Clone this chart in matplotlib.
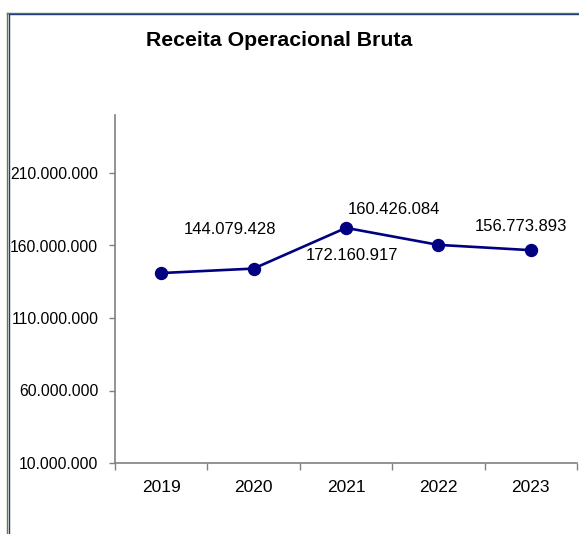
import matplotlib
matplotlib.use("Agg")
import matplotlib.pyplot as plt
from matplotlib.lines import Line2D
from matplotlib.ticker import FuncFormatter, FixedLocator

plt.rcParams['font.family'] = ['Liberation Sans', 'DejaVu Sans']

title = "Receita Operacional Bruta"
years = ["2019", "2020", "2021", "2022", "2023"]
values = [141000000, 144079428, 172160917, 160426084, 156773893]
labels = [None, "144.079.428", "172.160.917", "160.426.084", "156.773.893"]
label_offsets = [None, (-24, 39), (6, -28), (-44, 35), (-10, 24)]
y_ticks = [10000000, 60000000, 110000000, 160000000, 210000000]

W, H, DPI = 579, 534, 100
fig = plt.figure(figsize=(W / DPI, H / DPI), dpi=DPI)
fig.patch.set_facecolor('white')

# outer frame (two-tone line)
fig.add_artist(Line2D([7.5 / W, 7.5 / W], [0, 1 - 12.5 / H], transform=fig.transFigure,
                      color='#6b7a3a', lw=1.0))
fig.add_artist(Line2D([7.5 / W, 1], [1 - 12.5 / H, 1 - 12.5 / H], transform=fig.transFigure,
                      color='#6b7a3a', lw=1.0))
fig.add_artist(Line2D([8.5 / W, 8.5 / W], [0, 1 - 13.5 / H], transform=fig.transFigure,
                      color='#1f3f7a', lw=1.0))
fig.add_artist(Line2D([8.5 / W, 1], [1 - 13.5 / H, 1 - 13.5 / H], transform=fig.transFigure,
                      color='#1f3f7a', lw=1.0))

left, right, top, bottom = 115, 577, 115, 463
ax = fig.add_axes([left / W, 1 - bottom / H, (right - left) / W, (bottom - top) / H])
ax.set_facecolor('none')

x = list(range(len(years)))
ax.plot(x, values, color='#000080', lw=1.9, marker='o', markersize=8.6,
        markerfacecolor='#000080', markeredgecolor='#000080', zorder=3)

for xi, v, lab, off in zip(x, values, labels, label_offsets):
    if lab is None:
        continue
    ax.annotate(lab, (xi, v), xytext=off, textcoords='offset pixels',
                ha='center', va='center', fontsize=12, color='black')

ax.set_xlim(-0.5, len(years) - 0.5)
ax.set_ylim(10000000, 250000000)

ax.set_xticks(x)
ax.set_xticklabels(years, fontsize=12.5)
ax.xaxis.set_minor_locator(FixedLocator([i - 0.5 for i in range(len(years) + 1)]))
ax.tick_params(axis='x', which='major', length=0, pad=12)
ax.tick_params(axis='x', which='minor', length=5, width=1, color='#808080', direction='out')

ax.set_yticks(y_ticks)
ax.yaxis.set_major_formatter(FuncFormatter(lambda v, p: f"{int(v):,}".replace(",", ".")))
ax.tick_params(axis='y', length=4, width=1, color='#808080', direction='out', labelsize=11.3, pad=8)

for s in ['top', 'right']:
    ax.spines[s].set_visible(False)
for s in ['left', 'bottom']:
    ax.spines[s].set_color('#808080')
    ax.spines[s].set_linewidth(1.2)

fig.text(279 / W, 1 - 41 / H, title, ha='center', va='center', fontsize=15.3,
         fontweight='bold', color='black')

fig.savefig("out.png", dpi=DPI)
